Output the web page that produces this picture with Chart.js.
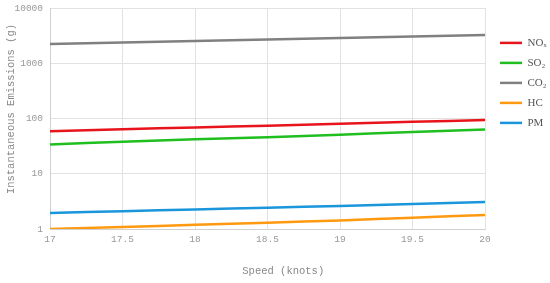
<!DOCTYPE html>
<html>
<head>
<meta charset="utf-8">
<script src="https://cdn.jsdelivr.net/npm/chart.js@4.4.1/dist/chart.umd.min.js"></script>
<style>
  html, body { margin: 0; padding: 0; background: #fff; }
  #wrap { width: 550px; height: 283px; }
</style>
</head>
<body>
<div id="wrap"><canvas id="emis"></canvas></div>
<script>
  // speed in knots
  const speeds = [17, 17.5, 18, 18.5, 19, 19.5, 20];

  const nox = [59, 64, 69, 74, 80, 87, 94];
  const so2 = [34, 38, 42, 46, 51, 57, 63];
  const co2 = [2230, 2380, 2540, 2700, 2870, 3050, 3240];
  const hc  = [1.0, 1.09, 1.19, 1.3, 1.43, 1.6, 1.8];
  const pm  = [1.95, 2.1, 2.26, 2.43, 2.62, 2.83, 3.08];

  const seriesNames = ['NO\u2093', 'SO\u2082', 'CO\u2082', 'HC', 'PM'];
  const yTicks = [1, 10, 100, 1000, 10000];

  const mono = 'Liberation Mono, Courier New, monospace';

  const mk = (label, vals, color) => ({
    label: label,
    data: speeds.map((s, i) => ({ x: s, y: vals[i] })),
    borderColor: color,
    backgroundColor: color,
    borderWidth: 2.5,
    pointRadius: 0,
    pointStyle: 'line',
    tension: 0.3
  });

  // push the legend entries a bit further from the plot
  const nudgeLegend = {
    id: 'nudgeLegend',
    afterLayout(c) {
      c.legend.left += 6;
      c.legend.right += 6;
    }
  };

  const ctx = document.getElementById('emis').getContext('2d');

  const chart = new Chart(ctx, {
    type: 'line',
    data: {
      datasets: [
        mk(seriesNames[0], nox, '#e8141c'),
        mk(seriesNames[1], so2, '#1fbf1f'),
        mk(seriesNames[2], co2, '#808080'),
        mk(seriesNames[3], hc, '#ff9a10'),
        mk(seriesNames[4], pm, '#1a96dc')
      ]
    },
    plugins: [nudgeLegend],
    options: {
      responsive: true,
      maintainAspectRatio: false,
      animation: false,
      layout: { padding: { top: 0, left: 0, right: 0, bottom: 5 } },
      plugins: {
        tooltip: { enabled: false },
        legend: {
          position: 'right',
          align: 'start',
          maxWidth: 65,
          title: { display: true, text: ' ', padding: { top: 14, bottom: 0 } },
          labels: {
            usePointStyle: true,
            pointStyleWidth: 22,
            boxHeight: 3,
            padding: 9,
            color: '#555',
            font: { family: 'Liberation Serif, Times New Roman, serif', size: 11 }
          }
        }
      },
      scales: {
        x: {
          type: 'linear',
          min: 17,
          max: 20,
          ticks: {
            stepSize: 0.5,
            padding: 5,
            color: '#999',
            font: { family: mono, size: 9.5 },
            callback: (v) => String(v)
          },
          grid: { color: '#e2e2e2', drawTicks: false },
          border: { color: '#d0d0d0' },
          title: {
            display: true,
            text: '     Speed (knots)',
            color: '#888',
            font: { family: mono, size: 10.5 },
            padding: { top: 15, bottom: 0 }
          }
        },
        y: {
          type: 'logarithmic',
          min: 1,
          max: 10000,
          afterBuildTicks: (axis) => {
            axis.ticks = yTicks.map(v => ({ value: v }));
          },
          afterFit: (axis) => {
            axis.width = 50;
            axis.paddingTop = 8;
          },
          ticks: {
            color: '#999',
            font: { family: mono, size: 9.5 },
            padding: 7,
            callback: (v) => String(v)
          },
          grid: { color: '#e2e2e2', drawTicks: false },
          border: { color: '#d0d0d0' },
          title: {
            display: true,
            text: '   Instantaneous Emissions (g)',
            color: '#888',
            font: { family: mono, size: 10.5 },
            padding: { top: 5, bottom: 0 }
          }
        }
      }
    }
  });
</script>
</body>
</html>
